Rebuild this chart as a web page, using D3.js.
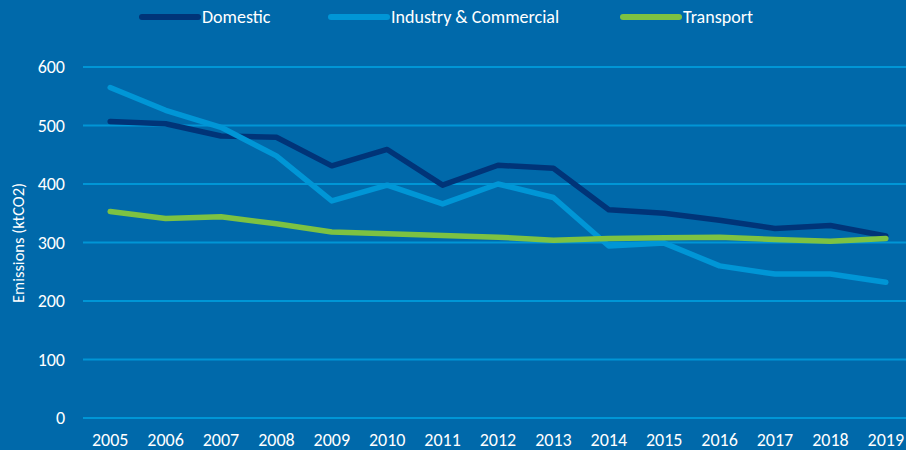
<!DOCTYPE html>
<html>
<head>
<meta charset="utf-8">
<script src="https://cdn.jsdelivr.net/npm/d3@7"></script>
<style>
  html, body { margin: 0; padding: 0; background: #0069aa; }
  svg { display: block; }
  text { font-family: Calibri, Carlito, Lato, sans-serif; fill: #ffffff; }
</style>
</head>
<body>
<div id="chart"></div>
<script>
var years = [2005, 2006, 2007, 2008, 2009, 2010, 2011, 2012, 2013, 2014, 2015, 2016, 2017, 2018, 2019];
var domestic = [507, 503, 482, 480, 431, 459, 398, 432, 427, 356, 350, 338, 324, 329, 311];
var industry = [565, 526, 497, 448, 371, 398, 366, 400, 377, 294, 299, 260, 246, 246, 232];
var transport = [353, 341, 344, 332, 318, 315, 312, 309, 304, 307, 308, 309, 305, 302, 307];
var yTicks = [0, 100, 200, 300, 400, 500, 600];

var seriesNames = ["Domestic", "Industry & Commercial", "Transport"];
var seriesColors = ["#003478", "#0096d6", "#7dc242"];

var width = 906,
    height = 450;

var svg = d3.select("#chart")
  .append("svg")
  .attr("width", width)
  .attr("height", height);

svg.append("rect")
  .attr("width", width)
  .attr("height", height)
  .attr("fill", "#0069aa");

var x = d3.scalePoint()
  .domain(years)
  .range([82.5, 913.5])
  .padding(0.5);

var y = d3.scaleLinear()
  .domain([0, 600])
  .range([418, 67]);

// gridlines
svg.append("g")
  .selectAll("line")
  .data(yTicks)
  .enter().append("line")
    .attr("x1", 83)
    .attr("x2", width)
    .attr("y1", function(d) { return y(d); })
    .attr("y2", function(d) { return y(d); })
    .attr("stroke", "#0096d6")
    .attr("stroke-width", 2);

// y tick labels
svg.append("g")
  .selectAll("text")
  .data(yTicks)
  .enter().append("text")
    .attr("x", 65)
    .attr("y", function(d) { return y(d); })
    .attr("dy", "0.35em")
    .attr("text-anchor", "end")
    .style("font-size", "18px")
    .text(function(d) { return d; });

// x tick labels
svg.append("g")
  .selectAll("text")
  .data(years)
  .enter().append("text")
    .attr("x", function(d) { return x(d); })
    .attr("y", 446)
    .attr("text-anchor", "middle")
    .style("font-size", "18px")
    .text(function(d) { return d; });

// y axis title
svg.append("text")
  .attr("transform", "translate(24,243) rotate(-90)")
  .attr("text-anchor", "middle")
  .style("font-size", "16.5px")
  .text("Emissions (ktCO2)");

var line = d3.line()
  .x(function(d, i) { return x(years[i]); })
  .y(function(d) { return y(d); });

var allSeries = [domestic, industry, transport];

// transport drawn last so it sits on top
svg.append("g")
  .selectAll("path")
  .data(allSeries)
  .enter().append("path")
    .attr("d", function(d) { return line(d); })
    .attr("fill", "none")
    .attr("stroke", function(d, i) { return seriesColors[i]; })
    .attr("stroke-width", 5.5)
    .attr("stroke-linejoin", "round")
    .attr("stroke-linecap", "round");

// legend
var legendX = [142, 331, 623];
var legend = svg.append("g")
  .selectAll("g")
  .data(seriesNames)
  .enter().append("g")
    .attr("transform", function(d, i) { return "translate(" + legendX[i] + ",17)"; });

legend.append("line")
  .attr("x1", 0)
  .attr("x2", 56)
  .attr("stroke", function(d, i) { return seriesColors[i]; })
  .attr("stroke-width", 6)
  .attr("stroke-linecap", "round");

legend.append("text")
  .attr("x", 60)
  .attr("dy", "0.35em")
  .style("font-size", "18px")
  .text(function(d) { return d; });
</script>
</body>
</html>
